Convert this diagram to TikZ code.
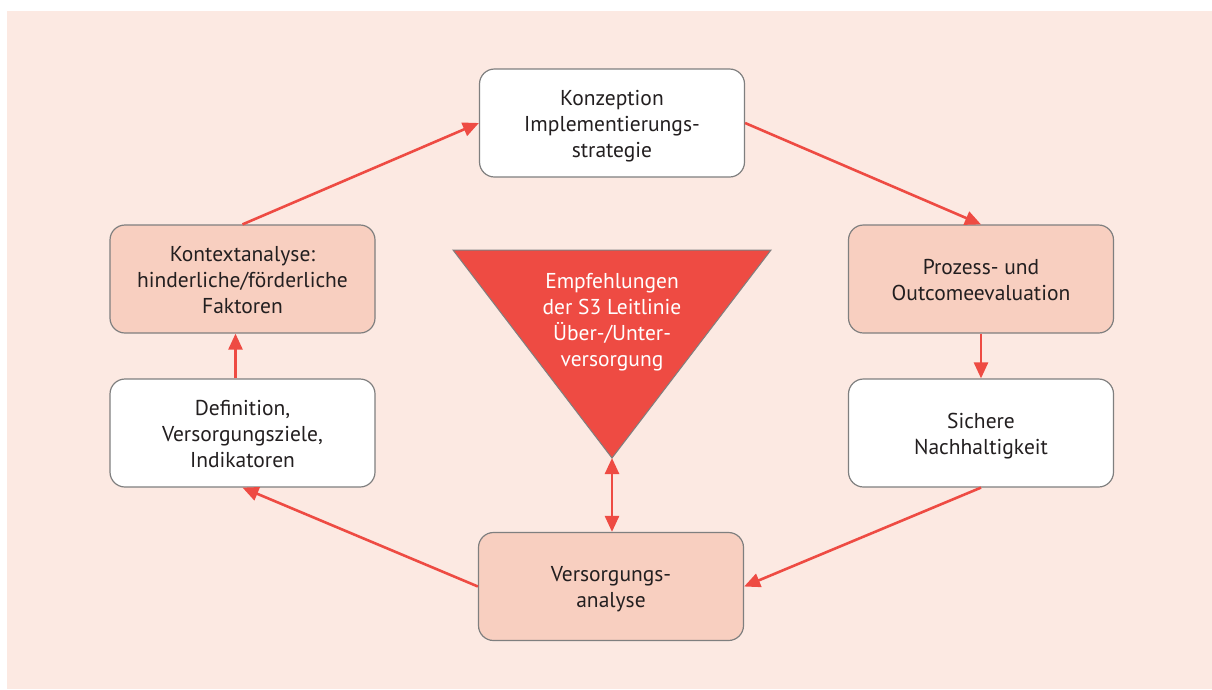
\documentclass[tikz,border=0pt]{standalone}
\usepackage{fontspec}
\setmainfont{PT Sans}
\usetikzlibrary{arrows.meta}
\definecolor{bgpink}{HTML}{FCE9E2}
\definecolor{peach}{HTML}{F8CFC0}
\definecolor{redc}{HTML}{EE4B43}
\definecolor{bordergray}{HTML}{7F7F7F}
\definecolor{textc}{HTML}{231F20}
\newcommand{\boxtext}[1]{\raisebox{-3pt}[\height][\depth]{\begin{tabular}{@{}c@{}}#1\end{tabular}}}
\tikzset{
  box/.style={draw=bordergray, line width=1.2pt, rounded corners=15pt,
    minimum width=265pt, minimum height=108pt, align=center, inner sep=0pt,
    text=textc, font=\fontsize{21.5}{26}\selectfont},
  whitebox/.style={box, fill=white},
  peachbox/.style={box, fill=peach},
  conn/.style={draw=redc, line width=2.6pt, -{Triangle[length=16pt,width=14pt]}},
  dconn/.style={draw=redc, line width=2.6pt, {Triangle[length=16pt,width=14pt]}-{Triangle[length=16pt,width=14pt]}}
}
\begin{document}
\begin{tikzpicture}[x=1pt,y=-1pt]
\useasboundingbox (0,0) rectangle (1212,689);
\fill[bgpink] (7,11) rectangle (1212,689);
% triangle
\filldraw[fill=redc, draw=bordergray, line width=1pt] (453,250) -- (771,250) -- (612,458) -- cycle;
\coordinate (tip) at (612,458);
\node[text=white, align=center, font=\fontsize{21.5}{26}\selectfont, inner sep=0pt] (tri) at (612,322) {Empfehlungen\\der S3 Leitlinie\\Über-/Unter-\\versorgung};
% boxes
\node[whitebox] (konz) at (612,123) {\boxtext{Konzeption\\Implementierungs-\\strategie}};
\node[peachbox] (kont) at (242.5,279) {\boxtext{Kontextanalyse:\\hinderliche/förderliche\\Faktoren}};
\node[whitebox] (def) at (242.5,433) {\boxtext{Definition,\\Versorgungsziele,\\Indikatoren}};
\node[peachbox] (proz) at (981,279) {\boxtext{Prozess- und\\Outcomeevaluation}};
\node[whitebox] (sich) at (981,433) {\boxtext{Sichere\\Nachhaltigkeit}};
\node[peachbox] (vers) at (611,586.5) {\boxtext{Versorgungs-\\analyse}};
% connectors
\draw[conn] (kont.north) -- (konz.west);
\draw[conn] (konz.east) -- (proz.north);
\draw[conn] (proz.south) -- (sich.north);
\draw[conn] (sich.south) -- (vers.east);
\draw[conn] (vers.west) -- (def.south);
\draw[conn] ([xshift=-7pt]def.north) -- ([xshift=-7pt]kont.south);
\draw[dconn] (tip) -- (vers.north -| tip);
\end{tikzpicture}
\end{document}
